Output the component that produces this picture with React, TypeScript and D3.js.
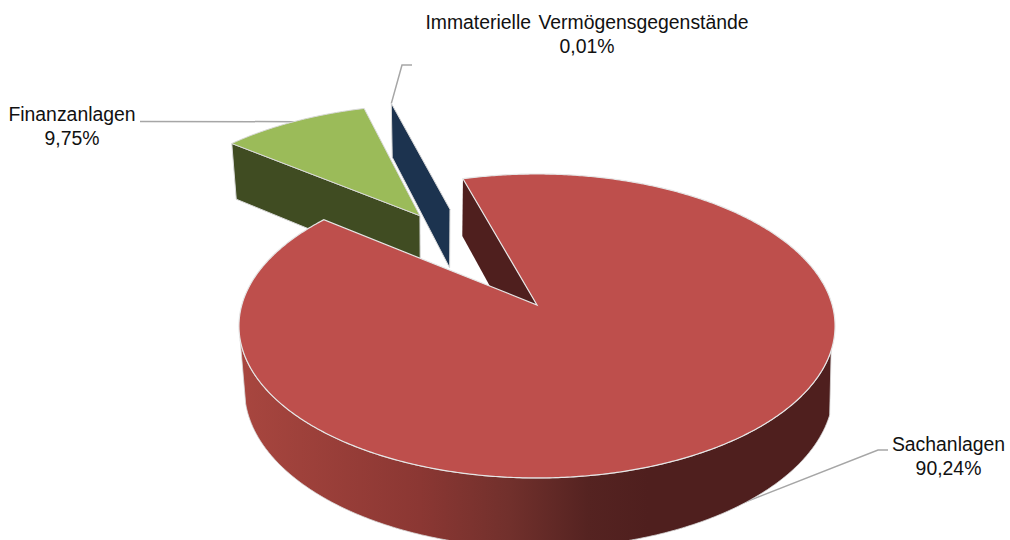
import { useEffect, useRef } from 'react';
import * as d3 from 'd3';

const categories = ['Sachanlagen', 'Finanzanlagen', 'Immaterielle Vermögensgegenstände'];
const shares = [90.24, 9.75, 0.01];
const shareLabels = ['90,24%', '9,75%', '0,01%'];

const topColors = ['#be4f4c', '#9bbb59', '#1c334f'];
const wallColors = ['#4f1f1e', '#404c22', '#1c334f'];

const width = 1010;
const height = 540;

// perspective of the pie plane, fitted to the picture
const persp = 0.138;
const explode = 0.394;
const startDeg = -16.5;
const smallNudge = 2.5; // the two small slices sit a bit further right
const levels = [
  { x0: 537, y0: 305, rx: 295.2, ry: 149.1 }, // top face
  { x0: 534.7, y0: 367.6, rx: 288.7, ry: 155.5 }, // bottom face
  { x0: 539, y0: 367.6, rx: 291.7, ry: 155.5 }, // bottom rim of the big slice
];

const toRad = Math.PI / 180;

type Arc = d3.PieArcDatum<number>;
type Pt = [number, number];

export default function App() {
  const svgRef = useRef<SVGSVGElement>(null);

  useEffect(() => {
    if (!svgRef.current) return;
    const svg = d3.select(svgRef.current);
    svg.selectAll('*').remove();

    const pie = d3.pie<number>()
      .value(d => d)
      .sort(null)
      .startAngle(startDeg * toRad)
      .endAngle((startDeg + 360) * toRad);
    const arcs = pie(shares);

    const mid = (a: Arc) => (a.startAngle + a.endAngle) / 2;
    const redOffset: Pt = [Math.sin(mid(arcs[0])) * explode, Math.cos(mid(arcs[0])) * explode];

    // plane point (radius, angle) of a slice -> screen
    const project = (a: Arc, r: number, angle: number, level: number): Pt => {
      const m = mid(a);
      const u = r * Math.sin(angle) + explode * Math.sin(m) - redOffset[0];
      const v = r * Math.cos(angle) + explode * Math.cos(m) - redOffset[1];
      const w = 1 + persp * v;
      const l = levels[level];
      const nudge = a.index === 0 ? 0 : smallNudge;
      return [l.x0 + nudge + (l.rx * u) / w, l.y0 - (l.ry * v) / w];
    };

    const arcPoints = (a: Arc, level: number, from = a.startAngle, to = a.endAngle): Pt[] => {
      const n = Math.max(2, Math.ceil(Math.abs(to - from) / (0.5 * toRad)));
      return d3.range(n + 1).map(i => project(a, 1, from + ((to - from) * i) / n, level));
    };

    const line = d3.line();
    const closed = (pts: Pt[]) => `${line(pts)}Z`;

    const defs = svg.append('defs');
    const grad = defs.append('linearGradient')
      .attr('id', 'wall')
      .attr('gradientUnits', 'userSpaceOnUse')
      .attr('x1', 240).attr('x2', 840).attr('y1', 0).attr('y2', 0);
    [[0, '#a8463f'], [0.3, '#8b3733'], [0.45, '#71302c'], [0.58, '#552321'], [0.68, '#4f1f1e'], [1, '#4f1f1e']]
      .forEach(([o, c]) => grad.append('stop').attr('offset', o).attr('stop-color', c));

    const edge = '#d9d9d9';

    // small slice first, then the green one, the big one goes on top
    const [red, green, blue] = arcs;

    // leader lines start on the slice's mid angle, slices are drawn over them
    const leaders: Pt[][] = [
      [project(red, 1, mid(red), 1), [878, 450], [888, 450]],
      [project(green, 1, mid(green), 0), [140, 121.5]],
      [project(blue, 1, mid(blue), 0), [402, 65], [412, 65]],
    ];
    leaders.forEach(pts => {
      svg.append('path')
        .attr('d', line(pts))
        .attr('fill', 'none')
        .attr('stroke', '#a6a6a6')
        .attr('stroke-width', 1.5);
    });

    // blue: only its cut face shows, the top is a hairline
    svg.append('path')
      .attr('d', closed([
        project(blue, 1, blue.startAngle, 0),
        project(blue, 0, 0, 0),
        project(blue, 0, 0, 1),
        project(blue, 1, blue.startAngle, 1),
      ]))
      .attr('fill', wallColors[2])
      .attr('stroke', edge)
      .attr('stroke-width', 1);

    // green wall + top
    svg.append('path')
      .attr('d', closed([
        project(green, 1, green.startAngle, 0),
        project(green, 0, 0, 0),
        project(green, 0, 0, 1),
        project(green, 1, green.startAngle, 1),
      ]))
      .attr('fill', wallColors[1])
      .attr('stroke', edge)
      .attr('stroke-width', 1);
    svg.append('path')
      .attr('d', closed([project(green, 0, 0, 0), ...arcPoints(green, 0)]))
      .attr('fill', topColors[1])
      .attr('stroke', edge)
      .attr('stroke-width', 1);

    // red: front wall between the silhouette angles, cut face, top
    const wallFrom = 107 * toRad;
    const wallTo = 257 * toRad;
    svg.append('path')
      .attr('d', closed([
        ...arcPoints(red, 0, wallFrom, wallTo),
        ...arcPoints(red, 2, wallFrom, wallTo).reverse(),
      ]))
      .attr('fill', 'url(#wall)')
      .attr('stroke', edge)
      .attr('stroke-width', 0.8);
    svg.append('path')
      .attr('d', closed([
        project(red, 1, red.startAngle, 0),
        project(red, 0, 0, 0),
        project(red, 0, 0, 1),
        project(red, 1, red.startAngle, 1),
      ]))
      .attr('fill', wallColors[0]);
    svg.append('path')
      .attr('d', closed([project(red, 0, 0, 0), ...arcPoints(red, 0)]))
      .attr('fill', topColors[0])
      .attr('stroke', '#e6e6e6')
      .attr('stroke-width', 1.2);

    // labels
    const labelPos: Pt[] = [[948.5, 451], [72, 121], [587, 29]];
    categories.forEach((name, i) => {
      const t = svg.append('text')
        .attr('text-anchor', 'middle')
        .attr('font-family', '"Liberation Sans", Arial, sans-serif')
        .attr('font-size', 19.4)
        .attr('word-spacing', 2)
        .attr('fill', '#111');
      t.append('tspan').attr('x', labelPos[i][0]).attr('y', labelPos[i][1]).text(name);
      t.append('tspan').attr('x', labelPos[i][0]).attr('y', labelPos[i][1] + 24).text(shareLabels[i]);
    });
  }, []);

  return (
    <svg
      ref={svgRef}
      width={width}
      height={height}
      style={{ position: 'absolute', left: 0, top: 0, background: '#fff' }}
    />
  );
}
